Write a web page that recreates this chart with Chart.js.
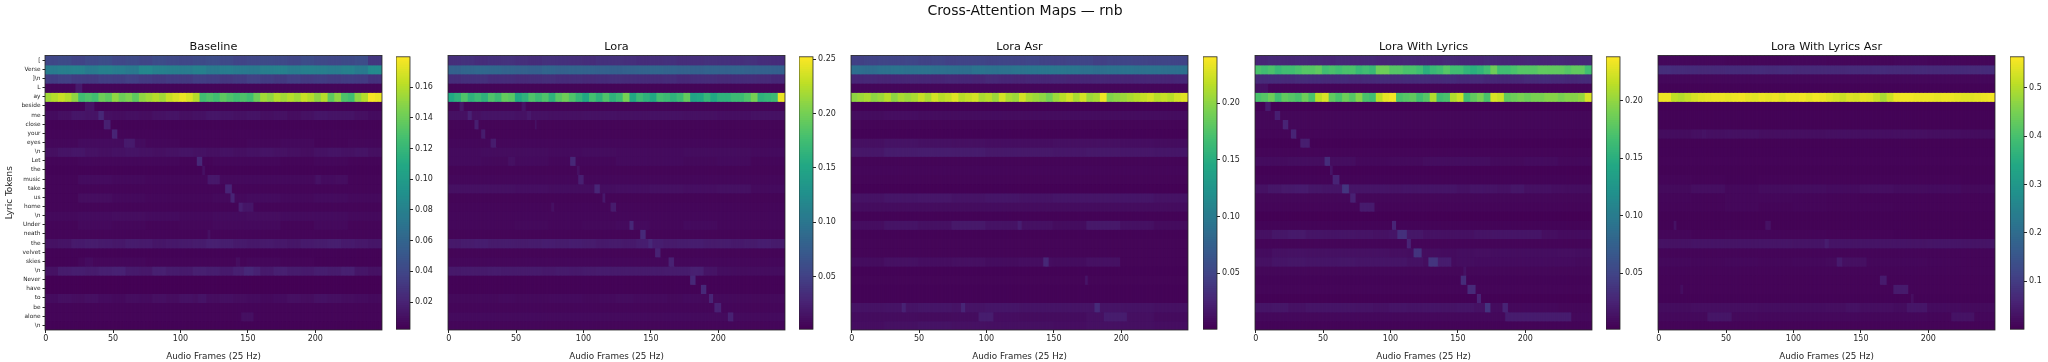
<!DOCTYPE html>
<html><head><meta charset="utf-8">
<script src="https://cdn.jsdelivr.net/npm/chart.js@4/dist/chart.umd.min.js"></script>
<style>
html,body{margin:0;padding:0;background:#fff;width:2048px;height:362px;overflow:hidden}
#stage{position:relative;width:2048px;height:362px;filter:blur(0.35px)}
#stage canvas{position:absolute}
#sup{position:absolute;left:0;width:2050px;top:2px;text-align:center;font:14px "DejaVu Sans";color:#111}
</style></head><body>
<div id="stage"><div id="sup">Cross-Attention Maps — rnb</div></div>
<script>
const tokens = ["[","Verse","]\\n","L","ay","beside","me","close","your","eyes","\\n","Let","the","music","take","us","home","\\n","Under","neath","the","velvet","skies","\\n","Never","have","to","be","alone","\\n"];
const panelNames = ["Baseline","Lora","Lora Asr","Lora With Lyrics","Lora With Lyrics Asr"];
const valueRanges = [[0.0023,0.1798],[0.0017,0.2521],[0.0008,0.2408],[0.0014,0.2382],[0.0009,0.5643]];
const colorbarTicks = [
 [0.02,0.04,0.06,0.08,0.10,0.12,0.14,0.16],
 [0.05,0.10,0.15,0.20,0.25],
 [0.05,0.10,0.15,0.20],
 [0.05,0.10,0.15,0.20],
 [0.1,0.2,0.3,0.4,0.5]];
const frameTicks = [0,50,100,150,200];
const FRAMES = 250;

// every row: values spread evenly over the 250 frames
const baselineRows = [
 [.040,.042,.038,.041,.044,.040,.042,.039,.043,.041,.040,.042,.044,.041,.038,.040,.042,.041,.039,.043,.041,.040,.042,.044,.030],
 [.076,.078,.080,.075,.079,.077,.074,.084,.080,.078,.076,.079,.074,.077,.075,.073,.078,.080,.076,.079,.078,.076,.080,.075,.086],
 [.034,.036,.033,.032,.035,.034,.036,.033,.031,.033,.032,.035,.034,.031,.033,.036,.034,.032,.035,.033,.034,.032,.034,.033,.028],
 [.005],
 [.155,.16,.165,.16,.15,.125,.13,.125,.14,.135,.15,.14,.145,.135,.15,.155,.16,.155,.165,.17,.175,.17,.16,.125,.13,.125,.135,.13,.125,.13,.125,.14,.155,.15,.16,.155,.16,.155,.165,.16,.15,.16,.135,.15,.13,.125,.15,.16,.178,.175],
 [.004],
 [.008,.010,.013,.012,.010,.009,.010,.009,.011,.012,.010,.011,.013,.012,.011,.012,.010,.011,.009,.011,.013,.012,.012,.010,.008],
 [.004],[.005],
 [.006,.008,.008,.006,.005,.005,.006,.007,.005,.006],
 [.010,.012,.013,.011,.010,.011,.012,.011,.010,.011,.012,.011,.010,.011,.010,.011,.012,.011,.010,.009,.011,.012,.011,.012,.010],
 [.005,.006,.006,.006,.005,.006,.006,.005,.006,.005],[.004],
 [.005,.008,.007,.006,.006,.007,.007,.007,.008,.005],
 [.005],[.005,.009,.007,.006,.006,.007,.008,.007,.008,.007],[.005],
 [.007,.008,.009,.008,.007,.008,.009,.008,.008,.007],
 [.005,.007,.006,.005,.006,.007,.007,.005,.007,.005],[.005],
 [.011,.012,.015,.016,.015,.014,.016,.015,.013,.014,.015,.016,.018,.017,.015,.014,.015,.014,.013,.015,.016,.017,.015,.014,.013],
 [.004],[.004,.006,.006,.005,.005,.005,.006,.005,.004,.004],
 [.011,.016,.017,.016,.018,.019,.015,.014,.018,.016,.015,.018,.017,.015,.018,.019,.015,.018,.016,.015,.017,.016,.018,.013,.011],
 [.003],[.003],
 [.008,.010,.009,.010,.008,.007,.009,.008,.010,.009,.011,.010,.009,.010,.009,.008,.007,.008,.010,.009,.011,.010,.009,.008,.007],
 [.005],[.005],[.004]];
const baselineHits = [[3,23,28,.015],[5,30,37,.012],[6,40,44,.022],[7,44,49,.018],[8,50,54,.020],[9,59,67,.015],[11,113,117,.022],[12,117,119,.010],[13,121,130,.014],[13,201,205,.011],[13,216,225,.009],[14,134,139,.020],[15,138,141,.020],[16,144,147,.018],[16,147,155,.013],[19,121,123,.010],[22,142,145,.009],[22,30,36,.008],[23,148,155,.022],[26,114,120,.012],[28,146,155,.010]];

const loraRows = [
 [.035,.037,.034,.036,.038,.035,.034,.037,.036,.035,.034,.036,.037,.035,.033,.035,.036,.034,.035,.037,.036,.035,.037,.034,.033],
 [.080,.084,.086,.085,.082,.080,.078,.083,.080,.082,.081,.079,.078,.080,.082,.084,.082,.080,.079,.081,.080,.082,.080,.079,.078],
 [.034,.036,.037,.033,.034,.032,.034,.035,.033,.034,.032,.033,.035,.034,.033,.032,.034,.031,.033,.034,.032,.033,.034,.032,.030],
 [.005],
 [.152,.162,.182,.162,.172,.162,.182,.172,.192,.187,.152,.162,.182,.172,.182,.162,.187,.197,.182,.167,.152,.177,.162,.182,.162,.172,.2,.152,.172,.162,.152,.177,.172,.162,.172,.192,.147,.152,.167,.152,.162,.162,.172,.172,.182,.2,.162,.167,.172,.245],
 [.005],
 [.013,.015,.014,.013,.014,.013,.014,.013,.012,.014],
 [.005],[.005],[.007],
 [.009,.010,.010,.009,.010,.009,.009,.010,.010,.009],
 [.009,.008,.009,.007,.007,.009,.009,.008,.009,.006],[.005],[.007],
 [.013,.013,.012,.011,.011,.012,.013,.012,.013,.009],
 [.005],[.006],[.007],
 [.007,.007,.008,.007,.008,.009,.007,.009,.007,.007],[.005],
 [.019,.021,.022,.020,.021,.020,.021,.022,.021,.022,.021,.019,.020,.019,.022,.022,.020,.021,.022,.020,.021,.019,.020,.022,.020],
 [.005],[.007],
 [.019,.020,.020,.021,.020,.020,.020,.019,.020,.019,.020,.021,.020,.020,.020,.020,.021,.021,.018,.015,.011,.010,.010,.010,.010],
 [.004],[.004],
 [.008,.008,.008,.009,.008,.008,.009,.009,.008,.009,.010,.009,.009,.008,.009,.008,.008,.008,.008,.008],
 [.006],[.009],[.006]];
const loraHits = [[5,9,12,.018],[5,55,58,.015],[6,15,18,.025],[6,59,62,.019],[7,20,23,.023],[7,65,66,.015],[8,25,28,.021],[9,32,36,.021],[11,91,95,.030],[11,45,50,.013],[12,96,98,.013],[13,97,101,.024],[14,109,113,.028],[15,115,117,.019],[16,121,125,.021],[16,77,79,.013],[18,135,138,.030],[19,143,147,.031],[20,149,152,.030],[21,154,158,.025],[22,164,168,.025],[23,180,190,.024],[24,180,184,.030],[25,188,192,.031],[26,194,197,.028],[27,198,203,.025],[28,208,212,.025]];

const loraAsrRows = [
 [.046,.048,.050,.049,.051,.048,.050,.047,.049,.050,.048,.050,.049,.051,.048,.047,.049,.050,.046,.048,.050,.049,.048,.050,.049],
 [.088,.086,.090,.092,.090,.091,.089,.088,.087,.092,.090,.091,.093,.094,.096,.095,.094,.090,.088,.090,.092,.090,.091,.089,.090],
 [.027,.028,.026,.027,.028,.027,.026,.028,.027,.026,.029,.027,.026,.028,.027,.028,.026,.027,.028,.027,.026,.027,.028,.026,.028],
 [.005],
 [.2,.205,.21,.2,.205,.215,.2,.21,.205,.21,.22,.21,.225,.215,.22,.23,.215,.22,.225,.21,.215,.205,.225,.21,.205,.225,.21,.205,.2,.19,.205,.215,.225,.21,.225,.205,.21,.235,.195,.2,.205,.21,.215,.22,.225,.215,.22,.215,.225,.23],
 [.002],
 [.009,.010,.009,.009,.009,.009,.009,.009,.009,.009],
 [.004],[.003],
 [.011,.013,.012,.011,.010,.010,.011,.011,.010,.009],
 [.016,.019,.020,.019,.017,.017,.016,.017,.016,.015],
 [.004],[.005],[.004],[.002],
 [.013,.015,.016,.014,.015,.014,.015,.015,.015,.013],
 [.009],[.003],
 [.010,.014,.012,.017,.013,.012,.009,.017,.012,.008],
 [.003],[.004],[.004],
 [.009,.012,.010,.011,.009,.010,.009,.012,.004,.004],
 [.003],[.004],[.003],[.003],
 [.013,.014,.015,.014,.015,.014,.014,.014,.013,.012],
 [.009,.009,.008,.009,.010,.009,.009,.012,.011,.008],
 [.010,.012,.013,.012,.011,.011,.010,.012,.011,.010]];
const loraAsrHits = [[18,124,127,.021],[22,143,147,.028],[24,174,176,.014],[27,38,41,.024],[27,82,85,.026],[27,181,185,.030],[28,95,106,.020],[28,188,205,.020]];

const loraLyricsRows = [
 [.026,.028,.027,.028,.027,.026,.028,.027,.028,.026,.027,.028,.027,.026,.028,.027,.026,.028,.027,.026,.027,.026,.028,.027,.028],
 [.17,.165,.17,.16,.165,.165,.17,.175,.175,.18,.165,.17,.165,.17,.17,.16,.165,.16,.185,.185,.175,.175,.17,.17,.165,.15,.16,.165,.175,.165,.165,.155,.15,.155,.165,.185,.165,.165,.17,.175,.175,.175,.18,.18,.18,.18,.175,.18,.18,.165],
 [.030,.031,.030,.032,.031,.030,.031,.029,.030,.031,.030,.031,.032,.030,.031,.029,.030,.028,.027,.028,.030,.031,.030,.029,.030],
 [.012,.005,.005,.005,.005,.005,.005,.005,.005,.005,.005,.005,.005,.005,.005,.005,.005,.005,.005,.005,.005,.005,.005,.005,.005],
 [.17,.175,.185,.165,.18,.175,.17,.185,.17,.215,.225,.18,.17,.185,.175,.195,.17,.165,.215,.23,.235,.17,.175,.18,.165,.175,.21,.165,.17,.21,.22,.165,.18,.19,.17,.225,.22,.18,.185,.19,.185,.19,.19,.195,.195,.19,.195,.195,.2,.225],
 [.003],[.006],[.006],[.005],[.003],[.005],
 [.009,.010,.010,.007,.008,.010,.010,.008,.009,.007],
 [.003],[.004],
 [.013,.016,.018,.019,.016,.015,.015,.015,.015,.015,.014,.015,.015,.015,.015,.013,.015,.014,.013,.016,.012,.012,.011,.010,.010],
 [.006],[.005],[.002],
 [.004],
 [.012,.016,.018,.015,.014,.015,.014,.013,.015,.016,.013,.012,.012,.014,.015,.015,.015,.011,.009,.009],
 [.005],
 [.009,.012,.013,.012,.012,.012,.012,.012,.011,.010,.010,.009,.010,.011,.010,.010,.010,.010,.011,.010],
 [.012,.015,.016,.015,.015,.016,.015,.015,.015,.013,.010,.009,.010,.009,.009,.009,.009,.009,.009,.008],
 [.006],[.004],[.005],[.003],
 [.015,.016,.013,.015,.015,.015,.014,.013,.015,.014,.015,.014,.015,.013,.009,.007,.007,.007,.006,.006],
 [.007],[.004]];
const loraLyricsHits = [[5,8,12,.019],[6,15,19,.022],[7,21,25,.025],[8,27,31,.025],[9,34,41,.021],[11,52,56,.032],[12,56,58,.014],[13,58,63,.025],[14,65,70,.038],[15,71,75,.024],[16,78,89,.019],[18,102,105,.026],[19,106,113,.034],[20,113,116,.025],[21,118,124,.037],[22,129,136,.038],[22,136,146,.020],[23,155,157,.013],[24,153,157,.032],[25,158,164,.030],[26,165,168,.025],[27,171,175,.037],[27,184,188,.025],[28,186,235,.020]];

const lyricsAsrRows = [
 [.012,.012,.010,.011,.012,.011,.010,.012,.011,.010],
 [.075,.072,.070,.068,.068,.070,.070,.072,.070,.072,.068,.067,.068,.068,.069,.070,.072,.070,.068,.070,.067,.068,.070,.069,.070],
 [.012],[.006],
 [.55,.55,.51,.5,.515,.53,.54,.545,.55,.55,.545,.55,.555,.545,.54,.55,.545,.55,.54,.55,.55,.555,.545,.555,.55,.54,.53,.52,.535,.53,.545,.54,.52,.49,.52,.55,.555,.555,.55,.55,.55,.545,.55,.55,.545,.54,.54,.545,.55,.555],
 [.004],[.006],[.005],
 [.020,.025,.026,.023,.023,.025,.024,.025,.023,.020],
 [.005],[.006],[.008],[.005],
 [.009,.008,.006,.008,.008,.008,.008,.008,.008,.006],
 [.017,.023,.014,.020,.022,.019,.023,.020,.019,.015],
 [.011,.009,.012,.012,.011,.009,.008,.008,.008,.008],
 [.009,.009,.012,.009,.011,.009,.009,.008,.008,.008],
 [.005],[.005],[.011,.008,.009,.009,.009,.008,.008,.006,.006,.006],
 [.028,.031,.032,.033,.031,.031,.031,.032,.033,.031],
 [.009],
 [.014,.012,.014,.012,.014,.017,.012,.012,.011,.009],
 [.009],[.008],[.008],[.006],
 [.020,.023,.023,.022,.022,.023,.023,.020,.019,.017],
 [.014,.015,.015,.014,.014,.014,.012,.012,.011,.012],
 [.008]];
const lyricsAsrHits = [[8,33,36,.030],[18,12,14,.028],[18,80,84,.028],[20,124,127,.046],[22,133,137,.042],[22,137,155,.025],[24,165,170,.043],[25,17,19,.022],[25,175,186,.042],[26,188,190,.023],[27,185,200,.035],[27,140,150,.028],[28,37,55,.034],[28,218,235,.030]];

const allRows = [baselineRows,loraRows,loraAsrRows,loraLyricsRows,lyricsAsrRows];
const allHits = [baselineHits,loraHits,loraAsrHits,loraLyricsHits,lyricsAsrHits];

const viridisStops = ["#440154","#482475","#414487","#355f8d","#2a788e","#21918c","#22a884","#44bf70","#7ad151","#bddf26","#fde725"];
const plotLeft = [44.5,447.7,851.3,1254.7,1658];
const barLeft = [396,799,1203,1606,2010];
const PLOT_W = 337, PLOT_TOP = 55.5, PLOT_BOTTOM = 330;
const INK = "#262626";

function rgbOf(h){return [1,3,5].map(i=>parseInt(h.substr(i,2),16));}
function viridis(t){
  t=Math.max(0,Math.min(1,t))*10;const i=Math.min(9,Math.floor(t)),f=t-i;
  const a=rgbOf(viridisStops[i]),b=rgbOf(viridisStops[i+1]);
  return `rgb(${a.map((v,k)=>Math.round(v+(b[k]-v)*f)).join(",")})`;
}
const frameBox={id:"frameBox",afterDatasetsDraw(c){const a=c.chartArea,g=c.ctx;g.save();g.strokeStyle=INK;g.lineWidth=0.8;g.strokeRect(a.left,a.top,a.right-a.left,a.bottom-a.top);g.restore();}};
function addCanvas(l,t,w,h){const e=document.createElement("canvas");e.width=w;e.height=h;e.style.left=l+"px";e.style.top=t+"px";e.style.width=w+"px";e.style.height=h+"px";document.getElementById("stage").appendChild(e);return e;}
Chart.defaults.font.family='"DejaVu Sans"';
Chart.defaults.color=INK;
Chart.defaults.animation=false;

panelNames.forEach((name,p)=>{
  const rows=allRows[p],hits=allHits[p],[lo,hi]=valueRanges[p];
  const labels=Array.from({length:FRAMES},(_,i)=>i);
  const datasets=rows.map((row,r)=>{
    const vals=labels.map(f=>row[Math.floor(f*row.length/FRAMES)]);
    hits.filter(h=>h[0]===r).forEach(h=>{for(let f=h[1];f<h[2];f++)vals[f]=h[3];});
    return {data:labels.map(()=>[r-.5,r+.5]),backgroundColor:vals.map(v=>viridis((v-lo)/(hi-lo))),borderWidth:0,barPercentage:1,categoryPercentage:1,inflateAmount:0.5};
  });
  const LEFT=45,TOP=36,first=p===0;
  const el=addCanvas(plotLeft[p]-LEFT,TOP,LEFT+PLOT_W+2,362-TOP);
  new Chart(el,{type:"bar",data:{labels,datasets},plugins:[frameBox],options:{
    responsive:false,devicePixelRatio:1,
    layout:{padding:{left:0,right:2,top:0,bottom:0}},
    plugins:{legend:{display:false},tooltip:{enabled:false},
      title:{display:true,fullSize:false,text:name,color:"#111",font:{size:11.3,weight:"normal"},padding:{top:4,bottom:2}}},
    scales:{
      x:{stacked:true,offset:true,grid:{offset:false,drawOnChartArea:false,drawTicks:true,tickLength:3,color:INK},border:{display:false},
        afterBuildTicks(s){s.ticks=s.ticks.filter(t=>frameTicks.includes(t.value));},
        afterFit(s){s.height=32;},
        ticks:{autoSkip:false,maxRotation:0,font:{size:8},padding:1.5,callback(v){return frameTicks.includes(v)?String(v):"";}},
        title:{display:true,text:"Audio Frames (25 Hz)",font:{size:8.8},padding:{top:1,bottom:0}}},
      y:{type:"linear",reverse:true,min:-.5,max:29.5,display:first,grid:{drawOnChartArea:false,drawTicks:true,tickLength:2.5,color:INK},border:{display:false},
        afterBuildTicks(s){s.ticks=tokens.map((_,i)=>({value:i}));},
        afterFit(s){s.width=LEFT;},
        ticks:{autoSkip:false,font:{size:5.8},padding:2,callback(v){return tokens[v];}},
        title:{display:true,text:"Lyric Tokens",font:{size:8.9},padding:{top:4,bottom:0}}}
    }}});

  // colour bar
  const STEPS=128,PAD=6,step=(hi-lo)/STEPS;
  const bar=addCanvas(barLeft[p],PLOT_TOP-PAD,14+34,PLOT_BOTTOM-PLOT_TOP+2*PAD);
  const barSets=Array.from({length:STEPS},(_,i)=>({data:[[lo+i*step,lo+(i+1)*step]],backgroundColor:viridis((i+.5)/STEPS),borderWidth:0,barPercentage:1,categoryPercentage:1,inflateAmount:0.5}));
  new Chart(bar,{type:"bar",data:{labels:[""],datasets:barSets},plugins:[frameBox],options:{
    responsive:false,devicePixelRatio:1,
    layout:{padding:{top:PAD,bottom:PAD,left:0,right:0}},
    plugins:{legend:{display:false},tooltip:{enabled:false}},
    scales:{
      x:{display:false,stacked:true},
      y:{type:"linear",position:"right",min:lo,max:hi,grid:{drawOnChartArea:false,drawTicks:true,tickLength:3,color:INK},border:{display:false},
        afterBuildTicks(s){s.ticks=colorbarTicks[p].map(v=>({value:v}));},
        afterFit(s){s.width=34;},
        ticks:{autoSkip:false,font:{size:8},padding:2,callback(v){return v.toFixed(p===4?1:2);}}}
    }}});
});
</script></body></html>
